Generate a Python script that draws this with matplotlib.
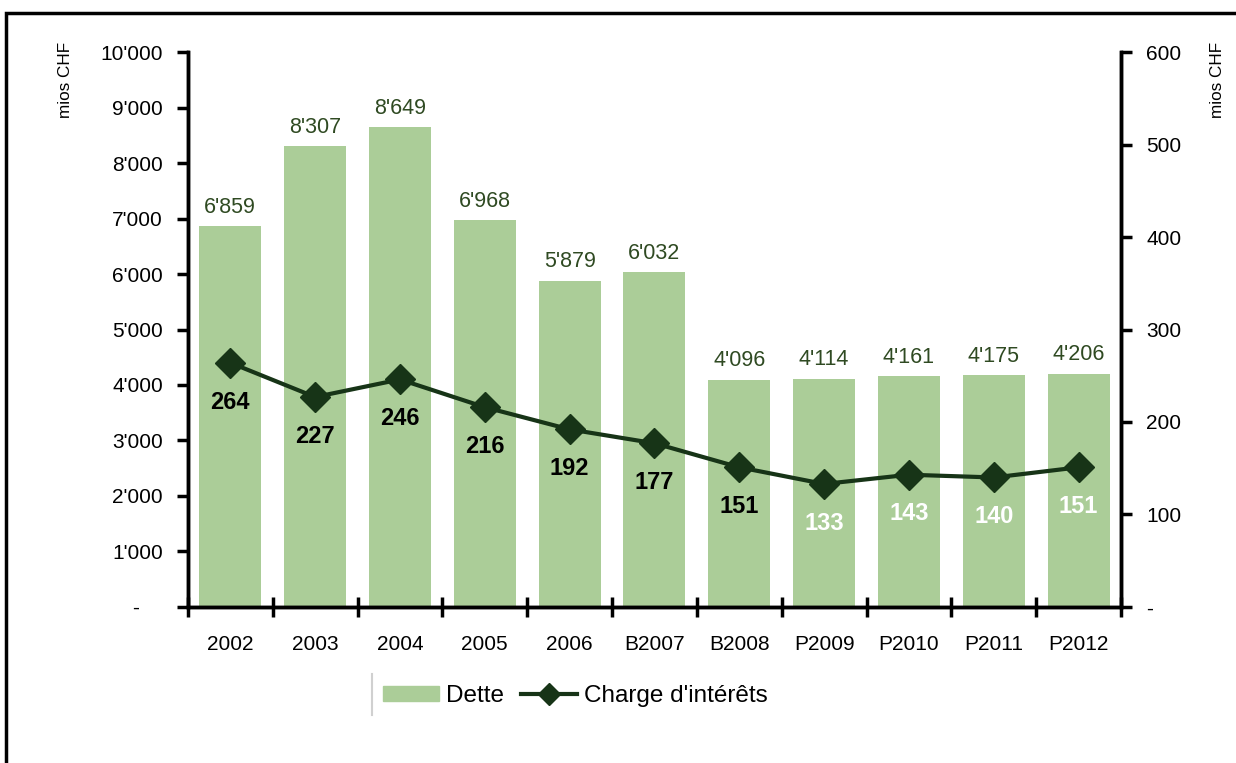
import matplotlib.pyplot as plt
from matplotlib.lines import Line2D
from matplotlib.patches import Patch, Rectangle
from matplotlib.ticker import FixedLocator, FuncFormatter

plt.rcParams['font.family'] = ['Liberation Sans', 'DejaVu Sans']

categories = ['2002', '2003', '2004', '2005', '2006', 'B2007', 'B2008',
              'P2009', 'P2010', 'P2011', 'P2012']
dette = [6859, 8307, 8649, 6968, 5879, 6032, 4096, 4114, 4161, 4175, 4206]
charge = [264, 227, 246, 216, 192, 177, 151, 133, 143, 140, 151]

bar_col = '#abcd98'
line_col = '#173417'
lab_col = '#2f4a22'

fig = plt.figure(figsize=(12.36, 7.63), dpi=100)
ax = fig.add_axes([0.152, 0.2045, 0.755, 0.7273])
ax2 = ax.twinx()

x = list(range(len(categories)))
ax.bar(x, dette, width=0.73, color=bar_col, zorder=2)
for i, v in enumerate(dette):
    s = f"{v:,}".replace(',', "'")
    ax.annotate(s, (i, v), xytext=(0, 6), textcoords='offset points',
                ha='center', va='bottom', fontsize=15.5, color=lab_col)

ax2.plot(x, charge, color=line_col, lw=3, marker='D', ms=15, zorder=3)
for i, v in enumerate(charge):
    c = 'white' if i >= 7 else 'black'
    ax2.annotate(str(v), (i, v), xytext=(0, -20), textcoords='offset points',
                 ha='center', va='top', fontsize=17, fontweight='bold', color=c)

ax.set_xlim(-0.5, 10.5)
ax.set_ylim(0, 10000)
ax2.set_ylim(0, 600)
ax.set_yticks(range(0, 10001, 1000))
ax.yaxis.set_major_formatter(FuncFormatter(
    lambda v, p: '-    ' if v == 0 else f"{int(v):,}".replace(',', "'")))
ax2.set_yticks(range(0, 601, 100))
ax2.yaxis.set_major_formatter(FuncFormatter(
    lambda v, p: '-' if v == 0 else str(int(v))))

ax.set_xticks(x)
ax.set_xticklabels(categories)
ax.xaxis.set_minor_locator(FixedLocator([i - 0.5 for i in range(12)]))
ax.tick_params(axis='x', which='major', length=0, pad=20, labelsize=15)
ax.tick_params(axis='x', which='minor', direction='inout', length=14, width=2.5)
ax.tick_params(axis='y', length=8, width=2.5, pad=10, labelsize=15)
ax2.tick_params(axis='y', length=8, width=2.5, pad=10, labelsize=15)

for a in (ax, ax2):
    a.spines['top'].set_visible(False)
    for s in ('left', 'right', 'bottom'):
        a.spines[s].set_linewidth(2.5)

fig.text(0.053, 0.945, 'mios CHF', rotation=90, ha='center', va='top', fontsize=12.3)
fig.text(0.985, 0.945, 'mios CHF', rotation=90, ha='center', va='top', fontsize=12.3)

handles = [Patch(color=bar_col),
           Line2D([], [], color=line_col, lw=3, marker='D', ms=11)]
leg = fig.legend(handles, ['Dette', "Charge d'intérêts"], loc='center left',
                 bbox_to_anchor=(0.292, 0.088), ncol=2, frameon=False,
                 fontsize=17.5, handlelength=2.3, handleheight=0.6,
                 handletextpad=0.3, columnspacing=0.7)
fig.add_artist(Line2D([0.301, 0.301], [0.063, 0.117], color='#d0d0d0', lw=1.5))

fig.add_artist(Rectangle((0.005, -0.1), 1.2, 1.083, fill=False,
                         edgecolor='black', lw=2.5, transform=fig.transFigure))

fig.savefig('out.png', dpi=100)
